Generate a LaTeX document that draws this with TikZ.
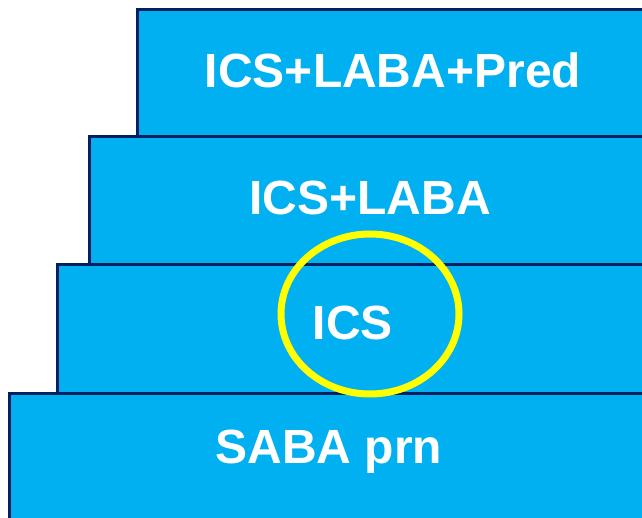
\documentclass[tikz,border=0pt]{standalone}
\usepackage{fontspec}
\setmainfont{Liberation Sans}
\definecolor{stepfill}{HTML}{00B0F0}
\definecolor{stepline}{HTML}{002060}
\definecolor{ringyellow}{HTML}{FFFF00}
\tikzset{
    stepbox/.style={fill=stepfill, draw=stepline, line width=3pt},
    steplabel/.style={text=white, font=\fontsize{48}{48}\selectfont\bfseries, inner sep=0pt}
}
\begin{document}
\begin{tikzpicture}[x=1pt, y=1pt]
    \useasboundingbox (0,0) rectangle (642,518);
    \clip (0,0) rectangle (642,518);
    % Below are the steps, top one first.
        \draw[stepbox] (137,508) rectangle (660,381);
        \draw[stepbox] (89,381) rectangle (660,253);
        \draw[stepbox] (57,253) rectangle (660,124);
        \draw[stepbox] (9,124) rectangle (660,-20);
    % Below nodes are the labels.
        \node[steplabel] (pred) at (393,448) {ICS+LABA+Pred};
        \node[steplabel] (laba) at (370,320) {ICS+LABA};
        \node[steplabel] (ics) at (353,195) {ICS};
        \node[steplabel] (saba) at (329,66) {SABA prn};
    % This draws the ring round ICS.
        \draw[ringyellow, line width=7pt] (370,204) ellipse (89 and 80);
\end{tikzpicture}
\end{document}
